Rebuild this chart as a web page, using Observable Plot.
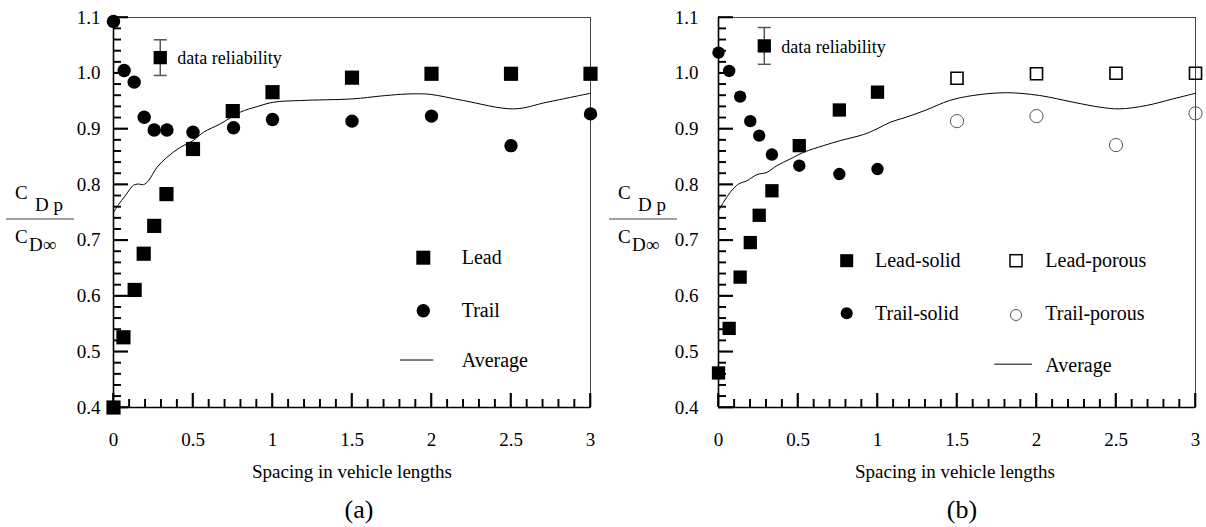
<!DOCTYPE html>
<html>
<head>
<meta charset="utf-8">
<script src="https://cdn.jsdelivr.net/npm/d3@7"></script>
<script src="https://cdn.jsdelivr.net/npm/@observablehq/plot@0.6"></script>
<style>
  body { margin: 0; background: #fff; }
  #wrap { display: flex; width: 1206px; height: 527px; }
  #wrap svg { font-family: 'Liberation Serif', 'Times New Roman', serif; font-size: 19px; }
</style>
</head>
<body>
<div id="wrap"></div>
<script>
// ---------- Panel (a) data ----------
const leadAX  = [0, 0.0625, 0.133, 0.19, 0.256, 0.333, 0.5, 0.75, 1, 1.5, 2, 2.5, 3];
const leadAY  = [0.400, 0.526, 0.611, 0.676, 0.726, 0.783, 0.864, 0.932, 0.966, 0.992, 0.999, 0.999, 0.999];
const trailAX = [0, 0.067, 0.13, 0.193, 0.256, 0.336, 0.5, 0.755, 1, 1.5, 2, 2.5, 3];
const trailAY = [1.093, 1.005, 0.984, 0.921, 0.898, 0.898, 0.894, 0.902, 0.917, 0.914, 0.923, 0.870, 0.927];
const avgAX = [0, 0.031, 0.074, 0.126, 0.157, 0.189, 0.22, 0.273, 0.336, 0.42, 0.5, 0.566, 0.671, 0.797, 0.902, 1.007, 1.175, 1.507, 1.678, 1.804, 1.888, 1.993, 2.2, 2.517, 2.727, 3.0];
const avgAY = [0.750, 0.764, 0.780, 0.799, 0.801, 0.800, 0.807, 0.831, 0.849, 0.867, 0.879, 0.894, 0.909, 0.930, 0.940, 0.948, 0.951, 0.954, 0.959, 0.962, 0.963, 0.962, 0.951, 0.936, 0.948, 0.964];
const reliabA = {x: 0.294, y: 1.028, err: 0.032};

// ---------- Panel (b) data ----------
const leadSX  = [0, 0.067, 0.136, 0.2, 0.256, 0.336, 0.508, 0.76, 1.0];
const leadSY  = [0.462, 0.542, 0.634, 0.696, 0.745, 0.789, 0.870, 0.934, 0.966];
const trailSX = [0, 0.067, 0.136, 0.2, 0.256, 0.336, 0.508, 0.76, 1.0];
const trailSY = [1.037, 1.004, 0.958, 0.914, 0.888, 0.854, 0.834, 0.819, 0.828];
const leadPX  = [1.5, 2, 2.5, 3];
const leadPY  = [0.991, 0.999, 1.0, 1.0];
const trailPX = [1.5, 2, 2.5, 3];
const trailPY = [0.914, 0.923, 0.871, 0.928];
const avgBX = [0, 0.031, 0.073, 0.126, 0.179, 0.242, 0.304, 0.367, 0.451, 0.535, 0.66, 0.765, 0.912, 0.996, 1.08, 1.18, 1.306, 1.453, 1.6, 1.81, 2.02, 2.23, 2.4, 2.52, 2.69, 2.86, 3.0];
const avgBY = [0.753, 0.768, 0.786, 0.801, 0.807, 0.818, 0.822, 0.834, 0.846, 0.858, 0.870, 0.879, 0.890, 0.900, 0.912, 0.921, 0.934, 0.951, 0.960, 0.965, 0.960, 0.948, 0.939, 0.936, 0.942, 0.954, 0.964];
const reliabB = {x: 0.288, y: 1.049, err: 0.033};

// ---------- Ticks / labels ----------
const xMajor = [0, 0.5, 1, 1.5, 2, 2.5, 3];
const xMinor = [0.1, 0.2, 0.3, 0.4, 0.6, 0.7, 0.8, 0.9, 1.1, 1.2, 1.3, 1.4, 1.6, 1.7, 1.8, 1.9, 2.1, 2.2, 2.3, 2.4, 2.6, 2.7, 2.8, 2.9];
const yMajor = [0.4, 0.5, 0.6, 0.7, 0.8, 0.9, 1.0, 1.1];
const yMinor = [0.42, 0.44, 0.46, 0.48, 0.52, 0.54, 0.56, 0.58, 0.62, 0.64, 0.66, 0.68, 0.72, 0.74, 0.76, 0.78, 0.82, 0.84, 0.86, 0.88, 0.92, 0.94, 0.96, 0.98, 1.02, 1.04, 1.06, 1.08];
const xTitle = "Spacing in vehicle lengths";
const zip = (xs, ys) => xs.map((x, i) => ({x, y: ys[i]}));

const FONT = "'Liberation Serif', 'Times New Roman', serif";
const capSymbol = {draw(ctx) { ctx.moveTo(-6.5, 0); ctx.lineTo(6.5, 0); }};

const W = 603, H = 527, MT = 17, MB = 120;

function basePlot({marginLeft, marginRight, tickPad, marks}) {
  const iw = W - marginLeft - marginRight;
  const ih = H - MT - MB;
  return Plot.plot({
    width: W, height: H,
    marginTop: MT, marginBottom: MB, marginLeft, marginRight,
    x: {domain: [0, 3]},
    y: {domain: [0.4, 1.1]},
    marks: [
      Plot.frame({stroke: "#444"}),
      Plot.axisY(yMajor, {tickSize: 0, tickPadding: tickPad, tickFormat: d3.format(".1f"), fontSize: 19, label: null}),
      Plot.axisX(xMajor, {tickSize: 0, tickPadding: 25, tickFormat: d => String(d), fontSize: 19, label: null}),
      Plot.ruleX([0], {stroke: "black", strokeWidth: 1.6}),
      Plot.ruleY([0.4], {stroke: "black", strokeWidth: 1.6}),
      Plot.tickY(yMajor, {y: d => d, insetRight: iw - 15, stroke: "black", strokeWidth: 1.6}),
      Plot.tickY(yMinor, {y: d => d, insetRight: iw - 8, stroke: "black", strokeWidth: 1.4}),
      Plot.tickX(xMajor, {x: d => d, insetTop: ih - 14, stroke: "black", strokeWidth: 1.6}),
      Plot.tickX(xMinor, {x: d => d, insetTop: ih - 8, stroke: "black", strokeWidth: 1.4}),
      ...marks
    ]
  });
}

function reliabilityMarks(r) {
  const d = [r];
  return [
    Plot.ruleX(d, {x: "x", y1: v => v.y - v.err, y2: v => v.y + v.err, stroke: "#555", strokeWidth: 1.5}),
    Plot.dot(d, {x: "x", y: v => v.y + v.err, symbol: capSymbol, stroke: "#555", strokeWidth: 1.5, fill: "none"}),
    Plot.dot(d, {x: "x", y: v => v.y - v.err, symbol: capSymbol, stroke: "#555", strokeWidth: 1.5, fill: "none"}),
    Plot.dot(d, {x: "x", y: "y", symbol: "square", r: 7.5, fill: "black"}),
    Plot.text(d, {x: "x", y: "y", text: () => "data reliability", textAnchor: "start", dx: 17, dy: 1, fontSize: 18, fill: "black"})
  ];
}

function addDecor(svg, panelLabel, legendFn) {
  const sx = svg.scale("x"), sy = svg.scale("y");
  const x0 = sx.apply(0), y0 = sy.apply(0.4);
  const t = d3.select(svg).append("g");
  yMajor.forEach(v => t.append("line").attr("x1", x0).attr("x2", x0 + 15).attr("y1", sy.apply(v)).attr("y2", sy.apply(v)).attr("stroke", "black").attr("stroke-width", 1.6));
  yMinor.forEach(v => t.append("line").attr("x1", x0).attr("x2", x0 + 8).attr("y1", sy.apply(v)).attr("y2", sy.apply(v)).attr("stroke", "black").attr("stroke-width", 1.4));
  xMajor.forEach(v => t.append("line").attr("x1", sx.apply(v)).attr("x2", sx.apply(v)).attr("y1", y0).attr("y2", y0 - 14).attr("stroke", "black").attr("stroke-width", 1.6));
  xMinor.forEach(v => t.append("line").attr("x1", sx.apply(v)).attr("x2", sx.apply(v)).attr("y1", y0).attr("y2", y0 - 8).attr("stroke", "black").attr("stroke-width", 1.4));

  const g = d3.select(svg).append("g").attr("font-family", FONT).attr("fill", "black").attr("text-anchor", "start");
  g.append("text").attr("x", 15).attr("y", 199).attr("font-size", 19).text("C");
  g.append("text").attr("x", 35).attr("y", 211).attr("font-size", 19).text("D\u00a0p");
  g.append("line").attr("x1", 6).attr("x2", 74).attr("y1", 219).attr("y2", 219).attr("stroke", "#444").attr("stroke-width", 1.2);
  g.append("text").attr("x", 15).attr("y", 243).attr("font-size", 19).text("C");
  g.append("text").attr("x", 29).attr("y", 251).attr("font-size", 19).text("D\u221e");
  g.append("text").attr("x", 352).attr("y", 478).attr("text-anchor", "middle").attr("font-size", 19).text(xTitle);
  g.append("text").attr("x", 359).attr("y", 518).attr("text-anchor", "middle").attr("font-size", 26).text(panelLabel);
  legendFn(g);
}

// ---------- Panel (a) ----------
const plotA = basePlot({
  marginLeft: 113, marginRight: 13, tickPad: 13,
  marks: [
    Plot.line(zip(avgAX, avgAY), {x: "x", y: "y", curve: "catmull-rom", stroke: "black", strokeWidth: 1}),
    Plot.dot(zip(leadAX, leadAY), {x: "x", y: "y", symbol: "square", r: 8, fill: "black"}),
    Plot.dot(zip(trailAX, trailAY), {x: "x", y: "y", symbol: "circle", r: 6.7, fill: "black"}),
    ...reliabilityMarks(reliabA)
  ]
});
addDecor(plotA, "(a)", g => {
  g.append("rect").attr("x", 416.3).attr("y", 250.7).attr("width", 14).attr("height", 14).attr("fill", "black");
  g.append("text").attr("x", 461.7).attr("y", 264).attr("font-size", 20).text("Lead");
  g.append("circle").attr("cx", 423.3).attr("cy", 310.7).attr("r", 6.7).attr("fill", "black");
  g.append("text").attr("x", 461.7).attr("y", 317).attr("font-size", 20).text("Trail");
  g.append("line").attr("x1", 400).attr("x2", 433.3).attr("y1", 360).attr("y2", 360).attr("stroke", "black").attr("stroke-width", 1);
  g.append("text").attr("x", 461.7).attr("y", 366.5).attr("font-size", 20).text("Average");
});

// ---------- Panel (b) ----------
const plotB = basePlot({
  marginLeft: 115, marginRight: 11, tickPad: 20,
  marks: [
    Plot.line(zip(avgBX, avgBY), {x: "x", y: "y", curve: "catmull-rom", stroke: "black", strokeWidth: 1}),
    Plot.dot(zip(leadSX, leadSY), {x: "x", y: "y", symbol: "square", r: 7.5, fill: "black"}),
    Plot.dot(zip(trailSX, trailSY), {x: "x", y: "y", symbol: "circle", r: 6.2, fill: "black"}),
    Plot.dot(zip(leadPX, leadPY), {x: "x", y: "y", symbol: "square", r: 6.8, fill: "none", stroke: "black", strokeWidth: 1.6}),
    Plot.dot(zip(trailPX, trailPY), {x: "x", y: "y", symbol: "circle", r: 6.6, fill: "none", stroke: "#555", strokeWidth: 1}),
    ...reliabilityMarks(reliabB)
  ]
});
addDecor(plotB, "(b)", g => {
  g.append("rect").attr("x", 237.2).attr("y", 254.2).attr("width", 13).attr("height", 13).attr("fill", "black");
  g.append("text").attr("x", 272).attr("y", 267).attr("font-size", 20).text("Lead-solid");
  g.append("circle").attr("cx", 243.7).attr("cy", 313.3).attr("r", 6).attr("fill", "black");
  g.append("text").attr("x", 272).attr("y", 319.5).attr("font-size", 20).text("Trail-solid");
  g.append("rect").attr("x", 407).attr("y", 254.7).attr("width", 12).attr("height", 12).attr("fill", "none").attr("stroke", "black").attr("stroke-width", 1.5);
  g.append("text").attr("x", 442.3).attr("y", 267).attr("font-size", 20).text("Lead-porous");
  g.append("circle").attr("cx", 413).attr("cy", 315).attr("r", 5.5).attr("fill", "none").attr("stroke", "#555").attr("stroke-width", 1);
  g.append("text").attr("x", 442.3).attr("y", 319.5).attr("font-size", 20).text("Trail-porous");
  g.append("line").attr("x1", 391.3).attr("x2", 429).attr("y1", 364.3).attr("y2", 364.3).attr("stroke", "#555").attr("stroke-width", 1.5);
  g.append("text").attr("x", 442.3).attr("y", 372).attr("font-size", 20).text("Average");
});

document.getElementById("wrap").append(plotA, plotB);
</script>
</body>
</html>
